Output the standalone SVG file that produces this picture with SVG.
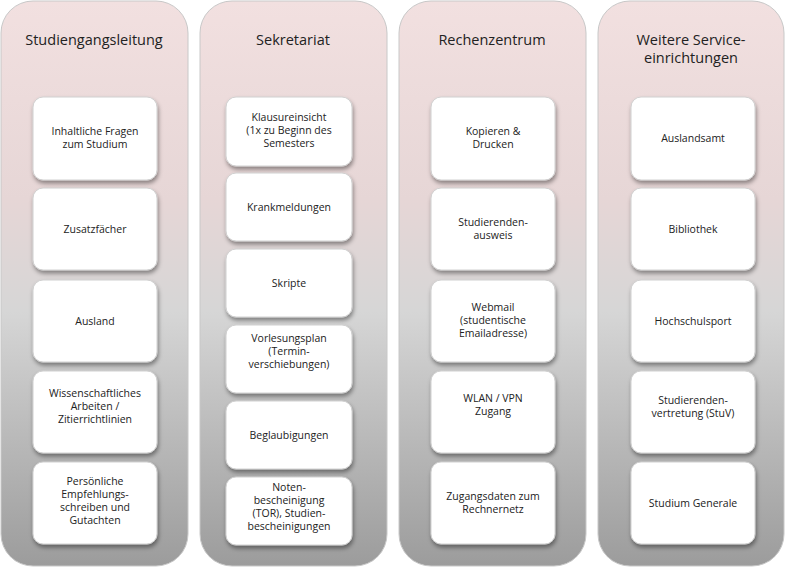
<svg xmlns="http://www.w3.org/2000/svg" width="786" height="569" viewBox="0 0 786 569">
<defs>
<linearGradient id="g" x1="0" y1="0" x2="0" y2="1">
<stop offset="0" stop-color="#f2e0e0"/><stop offset="0.35" stop-color="#e6d6d6"/><stop offset="0.55" stop-color="#d6d6d6"/><stop offset="1" stop-color="#9c9c9c"/>
</linearGradient>
<filter id="sh" x="-20%" y="-20%" width="140%" height="150%"><feDropShadow dx="1" dy="3" stdDeviation="2" flood-color="#000" flood-opacity="0.4"/></filter>
</defs>
<style>
.col{fill:url(#g);stroke:#c8c8c8;stroke-width:1}
.b{fill:#fff;stroke:#d0d0d0;stroke-width:1;filter:url(#sh)}
text{font-family:"Open Sans","Liberation Sans",sans-serif;fill:#222;text-anchor:middle}
.t{font-size:14.5px}
.s{font-size:10.5px}
</style>
<rect width="786" height="569" fill="#fff"/>
<g id="col1"><rect class="col" x="1" y="1" width="187" height="565" rx="32"/><text class="t" x="94" y="45">Studiengangsleitung</text></g>
<g id="col2"><rect class="col" x="200" y="1" width="187" height="565" rx="32"/><text class="t" x="293" y="45">Sekretariat</text></g>
<g id="col3"><rect class="col" x="399" y="1" width="187" height="565" rx="32"/><text class="t" x="492" y="45">Rechenzentrum</text></g>
<g id="col4"><rect class="col" x="598" y="1" width="186" height="565" rx="32"/><text class="t" x="691" y="45">Weitere Service-</text><text class="t" x="691" y="63">einrichtungen</text></g>

<g id="c1n1"><rect class="b" x="33" y="97" width="124" height="83" rx="10"/><text class="s" x="95" y="135">Inhaltliche Fragen</text><text class="s" x="95" y="148">zum Studium</text></g>
<g id="c1n2"><rect class="b" x="33" y="188" width="124" height="82" rx="10"/><text class="s" x="95" y="233">Zusatzfächer</text></g>
<g id="c1n3"><rect class="b" x="33" y="280" width="124" height="82" rx="10"/><text class="s" x="95" y="325">Ausland</text></g>
<g id="c1n4"><rect class="b" x="33" y="371" width="124" height="82" rx="10"/><text class="s" x="95" y="397">Wissenschaftliches</text><text class="s" x="95" y="410">Arbeiten /</text><text class="s" x="95" y="423">Zitierrichtlinien</text></g>
<g id="c1n5"><rect class="b" x="33" y="462" width="124" height="82" rx="10"/><text class="s" x="95" y="485">Persönliche</text><text class="s" x="95" y="498">Empfehlungs-</text><text class="s" x="95" y="511">schreiben und</text><text class="s" x="95" y="524">Gutachten</text></g>

<g id="c2n1"><rect class="b" x="226" y="97" width="126" height="69" rx="10"/><text class="s" x="289" y="121">Klausureinsicht</text><text class="s" x="289" y="134">(1x zu Beginn des</text><text class="s" x="289" y="147">Semesters</text></g>
<g id="c2n2"><rect class="b" x="226" y="173" width="126" height="68" rx="10"/><text class="s" x="289" y="211">Krankmeldungen</text></g>
<g id="c2n3"><rect class="b" x="226" y="249" width="126" height="68" rx="10"/><text class="s" x="289" y="287">Skripte</text></g>
<g id="c2n4"><rect class="b" x="226" y="325" width="126" height="68" rx="10"/><text class="s" x="289" y="342">Vorlesungsplan</text><text class="s" x="289" y="355">(Termin-</text><text class="s" x="289" y="368">verschiebungen)</text></g>
<g id="c2n5"><rect class="b" x="226" y="401" width="126" height="68" rx="10"/><text class="s" x="289" y="439">Beglaubigungen</text></g>
<g id="c2n6"><rect class="b" x="226" y="477" width="126" height="68" rx="10"/><text class="s" x="289" y="491">Noten-</text><text class="s" x="289" y="504">bescheinigung</text><text class="s" x="289" y="517">(TOR), Studien-</text><text class="s" x="289" y="530">bescheinigungen</text></g>

<g id="c3n1"><rect class="b" x="431" y="97" width="124" height="83" rx="10"/><text class="s" x="493" y="135">Kopieren &amp;</text><text class="s" x="493" y="148">Drucken</text></g>
<g id="c3n2"><rect class="b" x="431" y="188" width="124" height="82" rx="10"/><text class="s" x="493" y="226">Studierenden-</text><text class="s" x="493" y="239">ausweis</text></g>
<g id="c3n3"><rect class="b" x="431" y="280" width="124" height="82" rx="10"/><text class="s" x="493" y="311">Webmail</text><text class="s" x="493" y="324">(studentische</text><text class="s" x="493" y="337">Emailadresse)</text></g>
<g id="c3n4"><rect class="b" x="431" y="371" width="124" height="82" rx="10"/><text class="s" x="493" y="402">WLAN / VPN</text><text class="s" x="493" y="415">Zugang</text></g>
<g id="c3n5"><rect class="b" x="431" y="462" width="124" height="82" rx="10"/><text class="s" x="493" y="500">Zugangsdaten zum</text><text class="s" x="493" y="513">Rechnernetz</text></g>

<g id="c4n1"><rect class="b" x="631" y="97" width="124" height="83" rx="10"/><text class="s" x="693" y="142">Auslandsamt</text></g>
<g id="c4n2"><rect class="b" x="631" y="188" width="124" height="82" rx="10"/><text class="s" x="693" y="233">Bibliothek</text></g>
<g id="c4n3"><rect class="b" x="631" y="280" width="124" height="82" rx="10"/><text class="s" x="693" y="325">Hochschulsport</text></g>
<g id="c4n4"><rect class="b" x="631" y="371" width="124" height="82" rx="10"/><text class="s" x="693" y="404">Studierenden-</text><text class="s" x="693" y="417">vertretung  (StuV)</text></g>
<g id="c4n5"><rect class="b" x="631" y="462" width="124" height="82" rx="10"/><text class="s" x="693" y="507">Studium Generale</text></g>
<g id="connectors"/>
</svg>
